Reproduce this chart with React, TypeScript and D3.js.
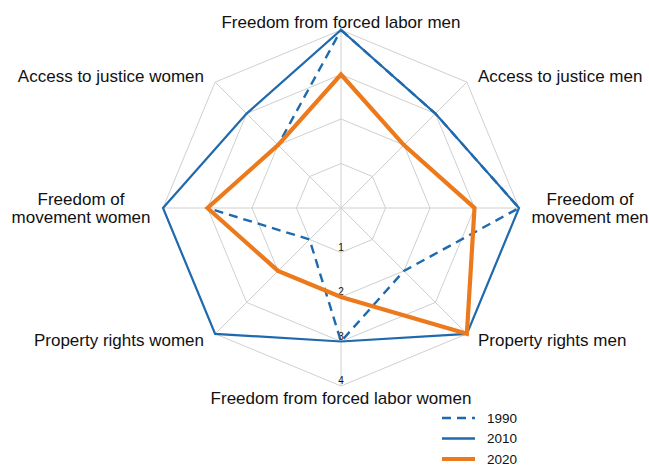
import React from "react";
import * as d3 from "d3";

const width = 649;
const height = 465;
const cx = 341;
const cy = 208;
const radius = 178;

// axes clockwise from the top
const axes = [
  ["Freedom from forced labor men"],
  ["Access to justice men"],
  ["Freedom of", "movement men"],
  ["Property rights men"],
  ["Freedom from forced labor women"],
  ["Property rights women"],
  ["Freedom of", "movement women"],
  ["Access to justice women"]
];

const years = ["1990", "2010", "2020"];
const values1990 = [4, 3, 4, 2, 3, 1, 3, 2];
const values2010 = [4, 3, 4, 4, 3, 4, 4, 3];
const values2020 = [3, 2, 3, 4, 2, 2, 3, 2];
const ticks = [1, 2, 3, 4];

const blue = "#1f69ad";
const orange = "#ec7a1c";

const seriesStyle = [
  { values: values1990, color: blue, width: 2.4, dash: "9,6" },
  { values: values2010, color: blue, width: 2.2, dash: null },
  { values: values2020, color: orange, width: 4.2, dash: null }
];

const r = d3.scaleLinear().domain([0, 4]).range([0, radius]);
const angle = d3
  .scaleLinear()
  .domain([0, axes.length])
  .range([0, 2 * Math.PI]);

const point = (i: number, v: number) => {
  const a = angle(i);
  return [Math.sin(a) * r(v), -Math.cos(a) * r(v)];
};

// label placement per axis: [dx, dy, anchor]
const labelPos: [number, number, string][] = [
  [0, -180, "middle"],
  [137, -126, "start"],
  [249, -3, "middle"],
  [137, 138, "start"],
  [0, 196, "middle"],
  [-137, 138, "end"],
  [-260, -3, "middle"],
  [-137, -126, "end"]
];

export default function App() {
  const line = d3
    .lineRadial<number>()
    .angle((d, i) => angle(i))
    .radius(d => r(d))
    .curve(d3.curveLinearClosed);

  const ring = (v: number) =>
    axes.map((a, i) => point(i, v).join(",")).join(" ");

  return (
    <svg
      width={width}
      height={height}
      style={{ position: "absolute", left: 0, top: 0, background: "#fff" }}
      fontFamily="'Liberation Sans', Arial, sans-serif"
    >
      <g transform={`translate(${cx}, ${cy})`}>
        {ticks.map(t => (
          <polygon key={t} points={ring(t)} fill="none" stroke="#d0d0d0" strokeWidth={1} />
        ))}
        {axes.map((a, i) => {
          const [x, y] = point(i, 4);
          return <line key={i} x1={0} y1={0} x2={x} y2={y} stroke="#d0d0d0" strokeWidth={1} />;
        })}
        {ticks.map(t => (
          <text key={t} x={0} y={r(t) - 2} fontSize={10} textAnchor="middle" fill="#111">
            {t}
          </text>
        ))}

        {seriesStyle.map((s, i) => (
          <path
            key={i}
            d={line(s.values) || ""}
            fill="none"
            stroke={s.color}
            strokeWidth={s.width}
            strokeDasharray={s.dash || undefined}
            strokeLinejoin="miter"
          />
        ))}

        {axes.map((lines, i) => {
          const [dx, dy, anchor] = labelPos[i];
          return (
            <text key={i} x={dx} y={dy} fontSize={17} textAnchor={anchor} fill="#111">
              {lines.map((l, j) => (
                <tspan key={j} x={dx} dy={j === 0 ? 0 : 18}>
                  {l}
                </tspan>
              ))}
            </text>
          );
        })}
      </g>

      <g transform="translate(442, 418)">
        {years.map((y, i) => (
          <g key={y} transform={`translate(0, ${i * 20.5})`}>
            <line
              x1={0}
              x2={33}
              y1={0}
              y2={0}
              stroke={seriesStyle[i].color}
              strokeWidth={i === 2 ? 4.2 : 2.4}
              strokeDasharray={seriesStyle[i].dash || undefined}
            />
            <text x={45} y={4.5} fontSize={13.5} fill="#111">
              {y}
            </text>
          </g>
        ))}
      </g>
    </svg>
  );
}
